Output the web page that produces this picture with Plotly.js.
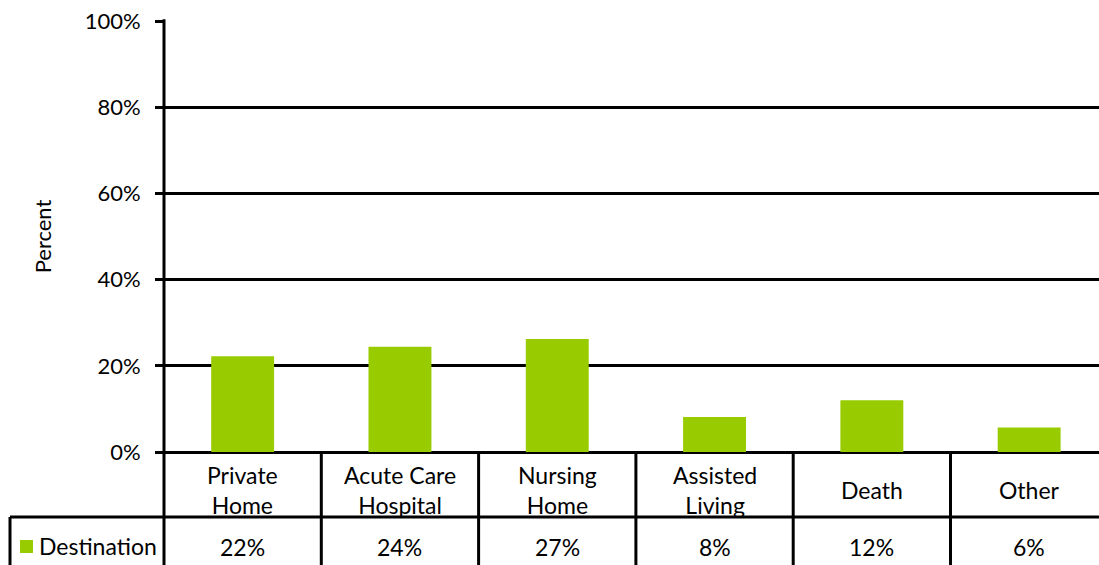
<!DOCTYPE html>
<html>
<head>
<meta charset="utf-8">
<script src="https://cdn.plot.ly/plotly-3.0.1.min.js"></script>
<style>html,body{margin:0;padding:0;overflow:hidden;background:#fff}</style>
</head>
<body>
<div id="chart" style="width:1099px;height:565px"></div>
<script>
var categories = ["Private Home", "Acute Care Hospital", "Nursing Home", "Assisted Living", "Death", "Other"];
var headerLabels = ["Private<br>Home", "Acute Care<br>Hospital", "Nursing<br>Home", "Assisted<br>Living", "Death", "Other"];
var values = [22.2, 24.4, 26.2, 8.1, 12.0, 5.7];
var tableLabels = ["22%", "24%", "27%", "8%", "12%", "6%"];
var seriesName = "Destination";
var yTicks = [0, 20, 40, 60, 80, 100];

var W = 1099, H = 565, L = 164, T = 21, B = 113;
var plotW = W - L, plotH = H - T - B;
function py(pix) { return (H - B - pix) / plotH; }   // pixel y -> paper
function px(pix) { return (pix - L) / plotW; }       // pixel x -> paper

var FONT = "Lato, 'Open Sans', sans-serif";
var GREEN = "#99CC00";
var lineStyle = {color: "#000", width: 3};

var shapes = [];
// vertical dividers between categories in the data table
for (var i = 0; i < categories.length - 1; i++) {
  shapes.push({type: "line", xref: "x", yref: "paper", x0: i + 0.5, x1: i + 0.5,
    y0: 0, y1: py(H), line: lineStyle});
}
// left axis line, running through the table
shapes.push({type: "line", xref: "paper", yref: "paper", x0: 0, x1: 0, y0: 1.004, y1: py(H), line: lineStyle});
// horizontal line between header row and data row
shapes.push({type: "line", xref: "paper", yref: "paper", x0: px(10), x1: 1.01, y0: py(517), y1: py(517), line: lineStyle});
// left border of legend cell
shapes.push({type: "line", xref: "paper", yref: "paper", x0: px(10), x1: px(10), y0: py(517), y1: py(H), line: lineStyle});
// legend swatch
shapes.push({type: "rect", xref: "paper", yref: "paper", x0: px(20), x1: px(33), y0: py(540), y1: py(553),
  fillcolor: GREEN, line: {width: 0}});

var annotations = [];
categories.forEach(function (c, i) {
  annotations.push({xref: "x", yref: "paper", x: c, y: py(490), text: headerLabels[i],
    showarrow: false, xanchor: "center", yanchor: "middle", font: {family: FONT, size: 23, color: "#000"}});
  annotations.push({xref: "x", yref: "paper", x: c, y: py(547), text: tableLabels[i],
    showarrow: false, xanchor: "center", yanchor: "middle", font: {family: FONT, size: 23, color: "#000"}});
});
annotations.push({xref: "paper", yref: "paper", x: px(37), y: py(546), text: seriesName,
  showarrow: false, xanchor: "left", yanchor: "middle", font: {family: FONT, size: 23, color: "#000"}});

var data = [{
  type: "bar", x: categories, y: values, name: seriesName,
  marker: {color: GREEN, line: {width: 0}}, hoverinfo: "x+y"
}];

var layout = {
  width: W, height: H,
  margin: {l: L, r: 0, t: T, b: B, pad: 0},
  paper_bgcolor: "#fff", plot_bgcolor: "#fff",
  showlegend: false,
  bargap: 0.6,
  font: {family: FONT, size: 22, color: "#000"},
  xaxis: {
    type: "category", range: [-0.5, -0.5 + plotW / 157.3],
    showticklabels: false, ticks: "", showgrid: false, zeroline: false, showline: false,
    fixedrange: true
  },
  yaxis: {
    range: [0, 100], tickvals: yTicks, ticktext: yTicks.map(function (v) { return v + "%"; }),
    ticks: "outside", ticklen: 8, tickwidth: 3, tickcolor: "#000",
    ticklabelstandoff: 10,
    showgrid: true, gridcolor: "#000", gridwidth: 3,
    zeroline: true, zerolinecolor: "#000", zerolinewidth: 3,
    showline: false,
    tickfont: {family: FONT, size: 22, color: "#000"},
    title: {text: "Percent", standoff: 26, font: {family: FONT, size: 22, color: "#000"}},
    automargin: false, fixedrange: true
  },
  shapes: shapes,
  annotations: annotations
};

Plotly.newPlot("chart", data, layout, {displayModeBar: false, staticPlot: true});
</script>
</body>
</html>
